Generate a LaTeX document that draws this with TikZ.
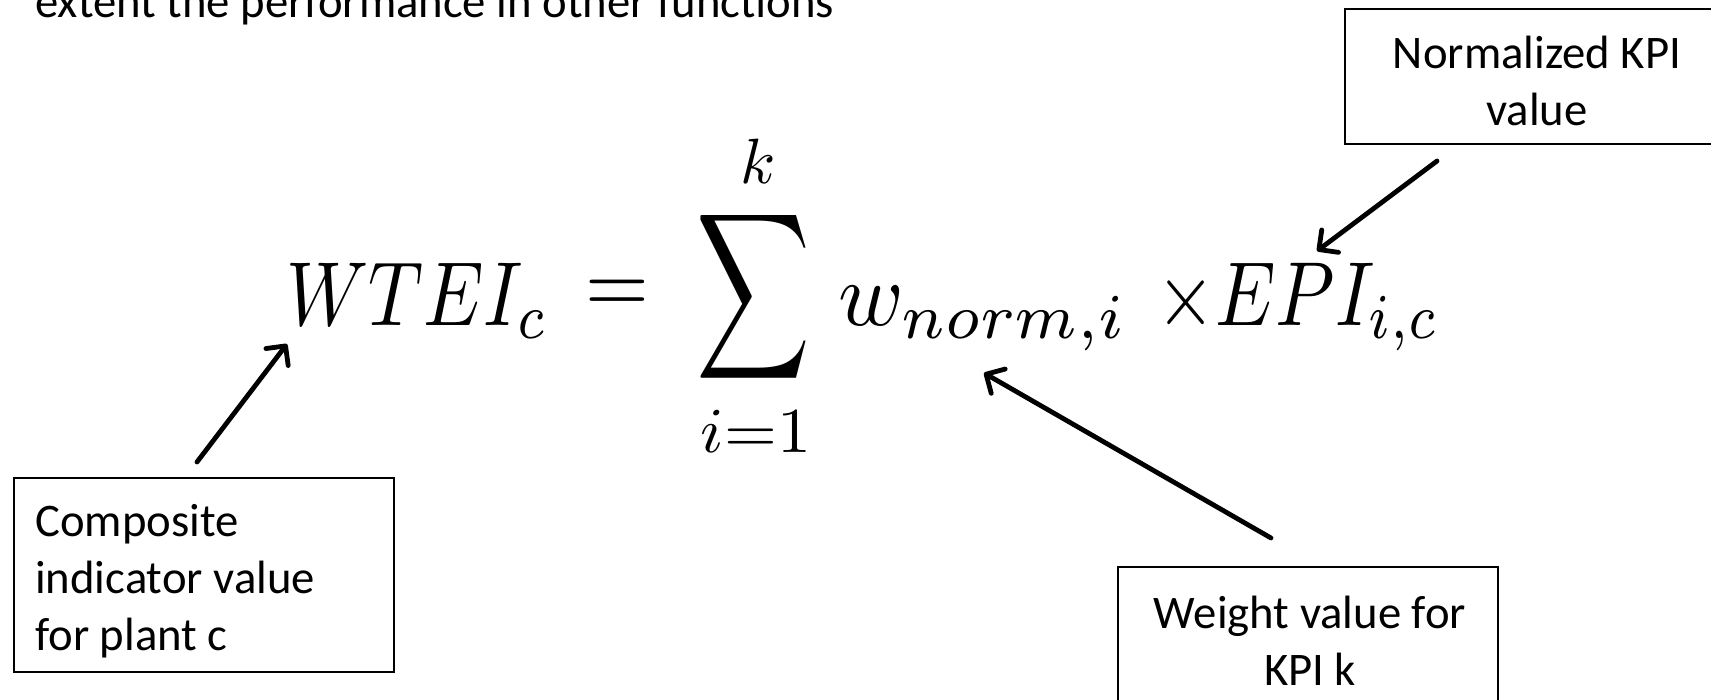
\documentclass[tikz,border=0pt]{standalone}
\usepackage[no-math]{fontspec}
\setmainfont{Carlito}
\usepackage{graphicx}
\usetikzlibrary{arrows.meta}
\newcommand{\eqsmall}[1]{\scalebox{6.4}{#1}}
\tikzset{
  boxshape/.style={draw=black, line width=2pt, inner sep=0pt},
  boxtext/.style={inner sep=0pt, font=\fontsize{46.7}{57}\selectfont},
  callout/.style={line width=4.8pt, line cap=round,
    -{Straight Barb[length=14pt,width=28pt,line cap=round,line join=round]}},
  mathpart/.style={inner sep=0pt}
}
\begin{document}
\begin{tikzpicture}[x=1pt,y=-1pt]
\useasboundingbox (0,0) rectangle (1711,699);
\node[boxtext, anchor=base west] (toptext) at (35,17) {extent the performance in other functions};

% boxes
\node[boxshape, minimum width=384pt, minimum height=135pt] (normbox) at (1537,76.5) {};
\node[boxshape, minimum width=380pt, minimum height=194pt] (compbox) at (204,575) {};
\node[boxshape, minimum width=380pt, minimum height=163pt] (weightbox) at (1308,648.5) {};

\node[boxtext, anchor=north, align=center] (normtxt) at (1537,28.1) {\strut Normalized KPI\\value};
\node[boxtext, anchor=north west, align=left] (comptxt) at (35,496.1) {\strut Composite\\indicator value\\for plant c};
\node[boxtext, anchor=north, align=center] (weighttxt) at (1310,588.1) {\strut Weight value for\\KPI k};

% equation
\node[mathpart, anchor=base west] (lhs) at (286,325) {\scalebox{7.6}[9.1]{$WTEI_c$}};
\node[mathpart] (eq) at (617,297) {\scalebox{8.2}[9.1]{$=$}};
\node[mathpart] (sum) at (754,297) {\resizebox*{114pt}{186pt}{$\displaystyle\sum$}};
\node[mathpart, anchor=base] (upper) at (758,183) {\eqsmall{$k$}};
\node[mathpart, anchor=base] (lower) at (756,452) {\scalebox{6.8}[6.4]{$i{=}1$}};
\node[mathpart, anchor=base west] (wnorm) at (838,325) {\scalebox{8.85}[9.1]{$w_{norm,i}$}};
\node[mathpart, anchor=base west] (epi) at (1156,325) {\scalebox{7.6}[9.1]{${\times}EPI_{i,c}$}};

% callout arrows
\coordinate (a1s) at (197,462); \coordinate (a1e) at (287,344);
\coordinate (a2s) at (1271,538); \coordinate (a2e) at (984,373);
\coordinate (a3s) at (1437,161); \coordinate (a3e) at (1317,251);
\draw[callout] (a1s) -- (a1e);
\draw[callout] (a2s) -- (a2e);
\draw[callout] (a3s) -- (a3e);
\end{tikzpicture}
\end{document}
